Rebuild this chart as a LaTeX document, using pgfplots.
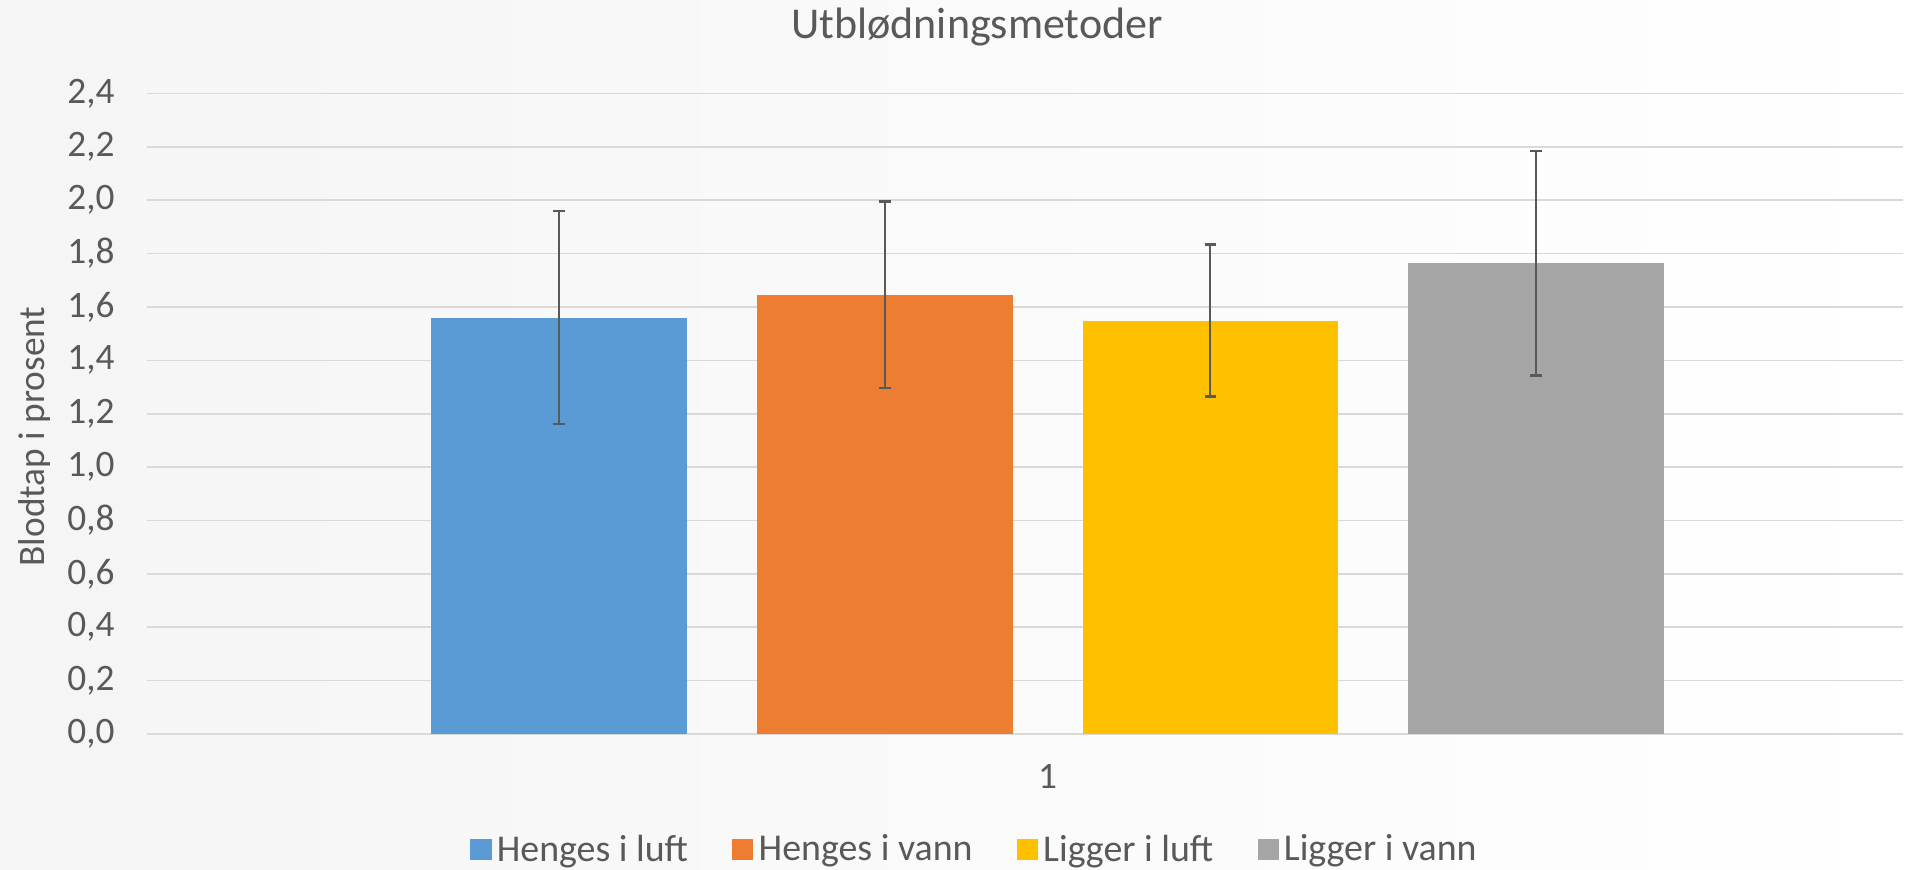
\documentclass[border=0pt]{standalone}
\usepackage{pgfplots}
\pgfplotsset{compat=1.18}
\usepackage{fontspec}
\setmainfont{Carlito}
\definecolor{txt}{HTML}{595959}
\definecolor{gridc}{HTML}{D9D9D9}
\definecolor{errc}{HTML}{595959}
\definecolor{c1}{HTML}{5B9BD5}
\definecolor{c2}{HTML}{ED7D31}
\definecolor{c3}{HTML}{FFC000}
\definecolor{c4}{HTML}{A5A5A5}
\pgfplotsset{mybar/.style={ybar, bar shift=0pt, bar width=0.7855, draw=none, fill=#1,
    error bars/.cd, y dir=both, y explicit,
    error bar style={color=errc, line width=0.7pt},
    error mark options={color=errc, rotate=90, mark size=2.2pt, line width=1pt},
    /pgfplots/.cd}}
\begin{document}
\begin{tikzpicture}
\useasboundingbox (-55.3pt,-51pt) rectangle (667.7pt,275.25pt);
\shade[left color=black!4, right color=white] (-55.3pt,-51pt) rectangle (667.7pt,275.25pt);
\begin{axis}[
  scale only axis, width=658.4pt, height=240.2pt,
  xmin=-0.265, xmax=5.128, ymin=0, ymax=2.4,
  ytick={0,0.2,0.4,0.6,0.8,1.0,1.2,1.4,1.6,1.8,2.0,2.2,2.4},
  xtick={2.5}, xticklabels={1},
  ymajorgrids, grid style={gridc, line width=0.6pt},
  axis line style={draw=none},
  major tick length=0pt,
  tick style={draw=none},
  clip=false,
  /pgf/number format/.cd, fixed, fixed zerofill, precision=1, use comma, assume math mode=true,
  /pgfplots/.cd,
  ticklabel style={font=\fontsize{14}{16}\selectfont, text=txt},
  yticklabel style={xshift=-8.8pt},
  xticklabel style={yshift=-8pt},
  legend image code/.code={\fill[#1] (0pt,-3.95pt) rectangle (7.9pt,3.95pt);},
  legend style={at={(0.472,-0.181)}, anchor=center, draw=none, fill=none,
    legend columns=-1, font=\fontsize{14.2}{16}\selectfont, text=txt,
    /tikz/every even column/.append style={column sep=14.6pt}},
]
\addplot[mybar=c1] coordinates {(1,1.560) +- (0,0.399)};
\addlegendentry{Henges i luft}
\addplot[mybar=c2] coordinates {(2,1.646) +- (0,0.349)};
\addlegendentry{Henges i vann}
\addplot[mybar=c3] coordinates {(3,1.549) +- (0,0.284)};
\addlegendentry{Ligger i luft}
\addplot[mybar=c4] coordinates {(4,1.764) +- (0,0.420)};
\addlegendentry{Ligger i vann}
\end{axis}
\node[text=txt, font=\fontsize{16.5}{20}\selectfont] at (311.1pt,265.1pt) {Utblødningsmetoder};
\node[text=txt, font=\fontsize{14}{16}\selectfont, rotate=90] at (-42.4pt,111.6pt) {Blodtap i prosent};
\end{tikzpicture}
\end{document}
